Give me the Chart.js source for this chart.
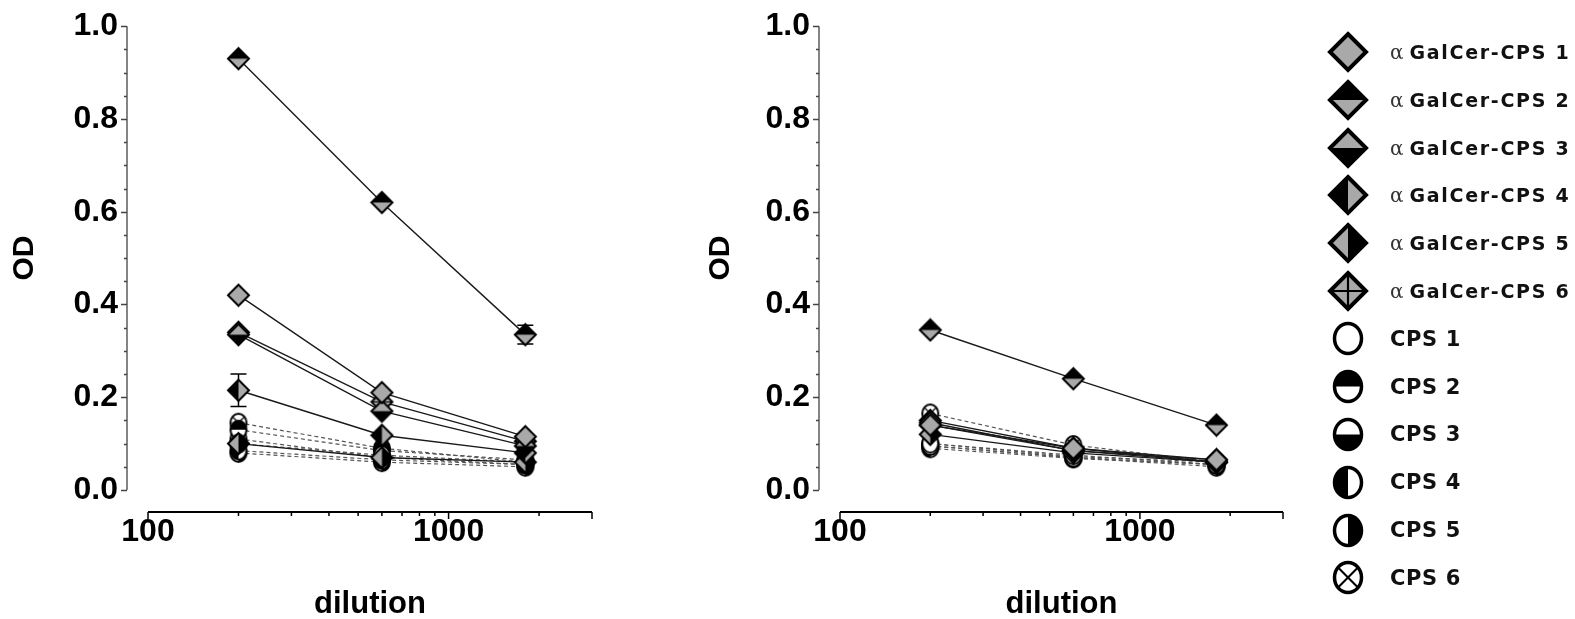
<!DOCTYPE html>
<html>
<head>
<meta charset="utf-8">
<script src="https://cdn.jsdelivr.net/npm/chart.js@4.4.1/dist/chart.umd.min.js"></script>
<style>
  body { margin: 0; background: #fff; width: 1575px; height: 619px; overflow: hidden; position: relative; }
  #wrapL { position: absolute; left: 0; top: -23px; width: 640px; height: 642px; }
  #wrapR { position: absolute; left: 696px; top: -23px; width: 640px; height: 642px; }
  #legend { position: absolute; left: 0; top: 0; }
  .row { position: absolute; left: 1320px; height: 48px; display: flex; align-items: center; white-space: nowrap; }
  .row canvas { display: block; }
  .mk { width: 56px; display: flex; justify-content: center; }
  .alpha { font-family: "DejaVu Serif", "Liberation Serif", serif; font-size: 20px; color: #333; margin-right: 6px; margin-left: 14px; }
  .txt { font-family: "DejaVu Sans", sans-serif; font-weight: bold; font-size: 19px; letter-spacing: 1.7px; color: #111; }
  .txt.cps { margin-left: 14px; font-size: 21px; letter-spacing: 0.6px; }
</style>
</head>
<body>
<div id="wrapL"><canvas id="chartL" width="640" height="642"></canvas></div>
<div id="wrapR"><canvas id="chartR" width="640" height="642"></canvas></div>
<div id="legend"></div>
<script>
// dilution steps (x) and axis ticks
const dilution = [200, 600, 1800];
const xTickLabels = [100, 1000];
const xMinorTicks = [200, 300, 400, 500, 600, 700, 800, 900, 2000, 3000];
const yTicks = [0, 0.2, 0.4, 0.6, 0.8, 1.0];

const seriesNames = [
  'GalCer-CPS 1', 'GalCer-CPS 2', 'GalCer-CPS 3', 'GalCer-CPS 4', 'GalCer-CPS 5', 'GalCer-CPS 6',
  'CPS 1', 'CPS 2', 'CPS 3', 'CPS 4', 'CPS 5', 'CPS 6'
];

// OD per series, left panel (same order as seriesNames)
const leftOD = [
  [0.42, 0.21, 0.115],
  [0.93, 0.62, 0.335],
  [0.335, 0.17, 0.095],
  [0.215, 0.118, 0.08],
  [0.10, 0.07, 0.06],
  [0.34, 0.19, 0.105],
  [0.10, 0.075, 0.06],
  [0.13, 0.085, 0.065],
  [0.11, 0.07, 0.055],
  [0.085, 0.065, 0.055],
  [0.08, 0.06, 0.05],
  [0.145, 0.09, 0.06]
];
const leftErr = [
  [0, 0, 0], [0, 0, 0.02], [0, 0, 0], [0.035, 0, 0], [0, 0, 0], [0, 0, 0],
  [0, 0, 0], [0, 0, 0], [0, 0, 0], [0, 0, 0], [0, 0, 0], [0, 0, 0]
];

// OD per series, right panel
const rightOD = [
  [0.14, 0.09, 0.065],
  [0.345, 0.24, 0.14],
  [0.145, 0.085, 0.06],
  [0.15, 0.09, 0.06],
  [0.12, 0.08, 0.06],
  [0.14, 0.085, 0.065],
  [0.10, 0.075, 0.055],
  [0.095, 0.07, 0.055],
  [0.10, 0.072, 0.06],
  [0.09, 0.068, 0.055],
  [0.095, 0.07, 0.05],
  [0.165, 0.097, 0.06]
];

const GRAY = '#a9a9a9';
const shapes = ['diamond', 'diamond', 'diamond', 'diamond', 'diamond', 'diamond',
                'circle', 'circle', 'circle', 'circle', 'circle', 'circle'];
const splits = [null, 'top', 'bottom', 'left', 'right', 'cross',
                null, 'top', 'bottom', 'left', 'right', 'x'];

function makeMarker(shape, split, size, lw) {
  const c = document.createElement('canvas');
  const w = shape === 'diamond' ? size : Math.round(size * 0.9);
  const h = size;
  c.width = Math.ceil(w + lw * 2);
  c.height = Math.ceil(h + lw * 2);
  const g = c.getContext('2d');
  const cx = c.width / 2, cy = c.height / 2, rx = w / 2, ry = h / 2;
  const path = () => {
    g.beginPath();
    if (shape === 'diamond') {
      g.moveTo(cx, cy - ry); g.lineTo(cx + rx, cy); g.lineTo(cx, cy + ry); g.lineTo(cx - rx, cy); g.closePath();
    } else {
      g.ellipse(cx, cy, rx, ry, 0, 0, Math.PI * 2);
    }
  };
  path();
  g.fillStyle = shape === 'diamond' ? GRAY : '#fff';
  g.fill();
  if (split) {
    g.save();
    path();
    g.clip();
    g.fillStyle = '#000';
    g.strokeStyle = '#000';
    if (split === 'top') g.fillRect(0, 0, c.width, cy);
    if (split === 'bottom') g.fillRect(0, cy, c.width, c.height);
    if (split === 'left') g.fillRect(0, 0, cx, c.height);
    if (split === 'right') g.fillRect(cx, 0, c.width, c.height);
    if (split === 'cross') {
      g.lineWidth = Math.max(1.2, lw * 0.55);
      g.beginPath();
      g.moveTo(cx, 0); g.lineTo(cx, c.height);
      g.moveTo(0, cy); g.lineTo(c.width, cy);
      g.stroke();
    }
    if (split === 'x') {
      g.lineWidth = Math.max(1.2, lw * 0.6);
      const d = Math.min(rx, ry) * 0.72;
      g.beginPath();
      g.moveTo(cx - d, cy - d); g.lineTo(cx + d, cy + d);
      g.moveTo(cx + d, cy - d); g.lineTo(cx - d, cy + d);
      g.stroke();
    }
    g.restore();
  }
  path();
  g.lineWidth = lw;
  g.strokeStyle = '#000';
  g.stroke();
  return c;
}

const plotMarkers = shapes.map((s, i) => s === 'diamond' ? makeMarker(s, splits[i], 21, 2) : makeMarker(s, splits[i], 18, 2));

// axis lines drawn Prism-style, detached from the plot area
const axisPlugin = {
  id: 'prismAxes',
  afterDraw(chart) {
    const { ctx, chartArea, scales } = chart;
    const xs = scales.x, ys = scales.y;
    const ax = chartArea.left - 21;
    const ay = chartArea.bottom + 22;
    ctx.save();
    ctx.strokeStyle = '#444';
    ctx.lineWidth = 1.3;
    ctx.beginPath();
    ctx.moveTo(ax, ys.getPixelForValue(1.0));
    ctx.lineTo(ax, ys.getPixelForValue(0));
    for (let v = 0; v <= 1.0001; v += 0.05) {
      const py = Math.round(ys.getPixelForValue(v)) + 0.5;
      const major = Math.abs(v * 5 - Math.round(v * 5)) < 1e-6;
      ctx.moveTo(ax, py);
      ctx.lineTo(ax - (major ? 6 : 3), py);
    }
    ctx.stroke();
    ctx.strokeStyle = '#000';
    ctx.lineWidth = 2;
    ctx.beginPath();
    ctx.moveTo(xs.getPixelForValue(100), ay);
    ctx.lineTo(xs.getPixelForValue(3000), ay);
    ctx.stroke();
    ctx.lineWidth = 1.5;
    ctx.beginPath();
    xTickLabels.forEach(v => {
      const px = xs.getPixelForValue(v);
      ctx.moveTo(px, ay); ctx.lineTo(px, ay + 7);
    });
    xMinorTicks.forEach(v => {
      const px = xs.getPixelForValue(v);
      ctx.moveTo(px, ay); ctx.lineTo(px, ay + (v === 3000 ? 7 : 4));
    });
    ctx.stroke();
    ctx.restore();
  }
};

// error bars, drawn below the markers
const errorBarPlugin = {
  id: 'errorBars',
  beforeDatasetsDraw(chart) {
    const errs = chart.options.plugins.errorBars.errors;
    if (!errs) return;
    const { ctx, scales } = chart;
    ctx.save();
    ctx.strokeStyle = '#000';
    ctx.lineWidth = 1.5;
    chart.data.datasets.forEach((ds, i) => {
      ds.data.forEach((p, j) => {
        const e = errs[i][j];
        if (!e) return;
        const px = scales.x.getPixelForValue(p.x);
        const top = scales.y.getPixelForValue(p.y + e);
        const bot = scales.y.getPixelForValue(p.y - e);
        ctx.beginPath();
        ctx.moveTo(px, top); ctx.lineTo(px, bot);
        ctx.moveTo(px - 8, top); ctx.lineTo(px + 8, top);
        ctx.moveTo(px - 8, bot); ctx.lineTo(px + 8, bot);
        ctx.stroke();
      });
    });
    ctx.restore();
  }
};

function makeDatasets(values) {
  return values.map((vals, i) => ({
    label: seriesNames[i],
    data: dilution.map((x, j) => ({ x: x, y: vals[j] })),
    borderColor: i < 6 ? '#1a1a1a' : '#555',
    borderWidth: i < 6 ? 1.4 : 1.2,
    borderDash: i < 6 ? [] : [4, 3],
    pointStyle: plotMarkers[i],
    pointRadius: 9,
    fill: false,
    tension: 0
  }));
}

const tickFont = { family: '"Liberation Sans", Arial, sans-serif', size: 32, weight: 'bold' };

function makeChart(canvasId, values, errors, yWidth, padRight) {
  return new Chart(document.getElementById(canvasId), {
    type: 'line',
    data: { datasets: makeDatasets(values) },
    options: {
      responsive: false,
      animation: false,
      events: [],
      layout: { padding: { top: 2, right: padRight, bottom: 0, left: 0 } },
      plugins: {
        legend: { display: false },
        tooltip: { enabled: false },
        errorBars: { errors: errors }
      },
      scales: {
        x: {
          type: 'logarithmic',
          min: 100,
          max: 3000,
          grid: { display: false, drawTicks: false },
          border: { display: false },
          afterBuildTicks: s => { s.ticks = xTickLabels.map(v => ({ value: v })); },
          afterFit: s => { s.height = 129; },
          ticks: {
            font: tickFont, color: '#000', padding: 23, maxRotation: 0, autoSkip: false,
            callback: v => String(v)
          },
          title: {
            display: true, text: 'dilution', color: '#000',
            font: { family: '"Liberation Sans", Arial, sans-serif', size: 31, weight: 'bold' },
            padding: { top: 0, bottom: -4 }
          }
        },
        y: {
          type: 'linear',
          min: 0,
          max: 1.0,
          grid: { display: false, drawTicks: false },
          border: { display: false },
          afterBuildTicks: s => { s.ticks = yTicks.map(v => ({ value: v })); },
          afterFit: s => { s.width = yWidth; },
          ticks: {
            font: tickFont, color: '#000', padding: 30,
            callback: v => v.toFixed(1)
          },
          title: {
            display: true, text: 'OD', color: '#000',
            font: { family: '"Liberation Sans", Arial, sans-serif', size: 30, weight: 'bold' },
            padding: { top: 7, bottom: 0 }
          }
        }
      }
    },
    plugins: [axisPlugin, errorBarPlugin]
  });
}

makeChart('chartL', leftOD, leftErr, 148, 48);
makeChart('chartR', rightOD, null, 144, 53);

// legend on the right
const legend = document.getElementById('legend');
seriesNames.forEach((name, i) => {
  const row = document.createElement('div');
  row.className = 'row';
  row.style.top = (52 + i * 47.8 - 24) + 'px';
  const mk = document.createElement('div');
  mk.className = 'mk';
  mk.appendChild(shapes[i] === 'diamond' ? makeMarker(shapes[i], splits[i], 36, 4) : makeMarker(shapes[i], splits[i], 30, 3.5));
  row.appendChild(mk);
  if (i < 6) {
    const a = document.createElement('span');
    a.className = 'alpha';
    a.textContent = 'α';
    row.appendChild(a);
  }
  const t = document.createElement('span');
  t.className = i < 6 ? 'txt' : 'txt cps';
  t.textContent = name;
  row.appendChild(t);
  legend.appendChild(row);
});
</script>
</body>
</html>
